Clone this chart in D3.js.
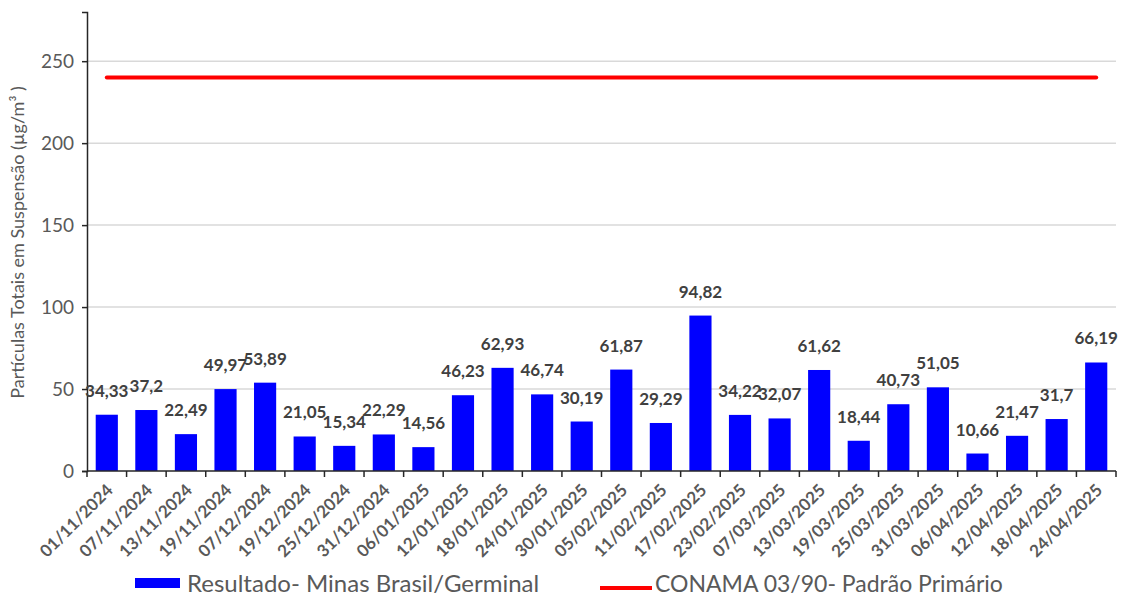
<html>
    <head>
        <script src="https://d3js.org/d3.v7.min.js"></script>
        <style>
            body {
                margin: 0;
                background: white;
                font-family: Lato, "Open Sans", sans-serif;
            }
            .grid line {
                stroke: #d9d9d9;
                stroke-width: 1.5px;
            }
        </style>
    </head>
    <body>
        <svg id="chart" width="1121" height="599"></svg>

        <script>
            const dates = ["01/11/2024", "07/11/2024", "13/11/2024", "19/11/2024", "07/12/2024",
                           "19/12/2024", "25/12/2024", "31/12/2024", "06/01/2025", "12/01/2025",
                           "18/01/2025", "24/01/2025", "30/01/2025", "05/02/2025", "11/02/2025",
                           "17/02/2025", "23/02/2025", "07/03/2025", "13/03/2025", "19/03/2025",
                           "25/03/2025", "31/03/2025", "06/04/2025", "12/04/2025", "18/04/2025",
                           "24/04/2025"];
            const results = [34.33, 37.2, 22.49, 49.97, 53.89, 21.05, 15.34, 22.29, 14.56, 46.23,
                             62.93, 46.74, 30.19, 61.87, 29.29, 94.82, 34.22, 32.07, 61.62, 18.44,
                             40.73, 51.05, 10.66, 21.47, 31.7, 66.19];
            const conamaLimit = 240;
            const yTicks = [0, 50, 100, 150, 200, 250];

            const svg = d3.select("#chart");
            const margin = { top: 12, right: 5, bottom: 128, left: 87 };
            const width = 1121, height = 599;

            const x = d3.scaleBand()
                        .domain(dates)
                        .range([margin.left, 1116])
                        .paddingInner(0.44)
                        .paddingOuter(0.22);
            const y = d3.scaleLinear()
                        .domain([0, 280])
                        .range([471, margin.top]);

            const fmt = v => String(v).replace(".", ",");

            // gridlines
            svg.append("g")
               .attr("class", "grid")
               .selectAll("line")
               .data(yTicks.filter(d => d > 0))
               .join("line")
               .attr("x1", margin.left)
               .attr("x2", 1116)
               .attr("y1", d => y(d))
               .attr("y2", d => y(d));

            // bars
            svg.append("g")
               .selectAll("rect")
               .data(results)
               .join("rect")
               .attr("x", (d, i) => x(dates[i]))
               .attr("y", d => y(d))
               .attr("width", x.bandwidth())
               .attr("height", d => y(0) - y(d))
               .attr("fill", "#0000ff");

            // limit line, from first to last category centre
            const half = x.bandwidth() / 2;
            svg.append("line")
               .attr("x1", x(dates[0]) + half)
               .attr("x2", x(dates[dates.length - 1]) + half)
               .attr("y1", y(conamaLimit))
               .attr("y2", y(conamaLimit))
               .attr("stroke", "#ff0000")
               .attr("stroke-width", 4)
               .attr("stroke-linecap", "round");

            // y axis
            const yAxis = svg.append("g")
               .attr("transform", "translate(" + margin.left + ",0)")
               .call(d3.axisLeft(y).tickValues(yTicks).tickSize(5).tickPadding(8));
            yAxis.select(".domain").attr("stroke", "#262626").attr("stroke-width", 1.5);
            yAxis.selectAll(".tick line").attr("stroke", "#262626").attr("stroke-width", 1.5);
            yAxis.selectAll(".tick text")
                 .attr("fill", "#595959")
                 .style("font-size", "19px")
                 .style("font-family", "Lato");

            // x axis baseline and category boundary ticks
            const step = x.step();
            const x0 = x.range()[0];
            svg.append("line")
               .attr("x1", margin.left).attr("x2", 1116)
               .attr("y1", y(0)).attr("y2", y(0))
               .attr("stroke", "#262626").attr("stroke-width", 1.5);
            svg.append("g")
               .selectAll("line")
               .data(d3.range(dates.length + 1))
               .join("line")
               .attr("x1", i => x0 + i * step)
               .attr("x2", i => x0 + i * step)
               .attr("y1", y(0))
               .attr("y2", y(0) + 6)
               .attr("stroke", "#262626")
               .attr("stroke-width", 1.5);

            // x labels
            svg.append("g")
               .selectAll("text")
               .data(dates)
               .join("text")
               .attr("transform", d => "translate(" + (x(d) + half + 3) + "," + (y(0) + 16) + ") rotate(-45)")
               .attr("text-anchor", "end")
               .attr("dy", "0.35em")
               .attr("fill", "#595959")
               .style("font-size", "17px")
               .style("font-weight", "bold")
               .text(d => d);

            // value labels
            svg.append("g")
               .selectAll("text")
               .data(results)
               .join("text")
               .attr("x", (d, i) => x(dates[i]) + half)
               .attr("y", d => y(d) - 18)
               .attr("text-anchor", "middle")
               .attr("fill", "#404040")
               .style("font-size", "17px")
               .style("font-weight", "bold")
               .text(d => fmt(d));

            // y title
            svg.append("text")
               .attr("transform", "translate(24," + ((margin.top + 471) / 2 + 1) + ") rotate(-90)")
               .attr("text-anchor", "middle")
               .attr("fill", "#595959")
               .style("font-size", "18px")
               .text("Partículas Totais em Suspensão (µg/m³ )");

            // legend
            const legend = svg.append("g");
            legend.append("rect")
                  .attr("x", 135).attr("y", 578)
                  .attr("width", 45).attr("height", 10)
                  .attr("fill", "#0000ff");
            legend.append("text")
                  .attr("x", 187).attr("y", 584)
                  .attr("dy", "0.35em")
                  .attr("fill", "#595959")
                  .style("font-size", "24px")
                  .text("Resultado- Minas Brasil/Germinal");
            legend.append("line")
                  .attr("x1", 600).attr("x2", 652)
                  .attr("y1", 588).attr("y2", 588)
                  .attr("stroke", "#ff0000")
                  .attr("stroke-width", 4);
            legend.append("text")
                  .attr("x", 655).attr("y", 584)
                  .attr("dy", "0.35em")
                  .attr("fill", "#595959")
                  .style("font-size", "23px")
                  .text("CONAMA 03/90- Padrão Primário");
        </script>
    </body>
</html>
